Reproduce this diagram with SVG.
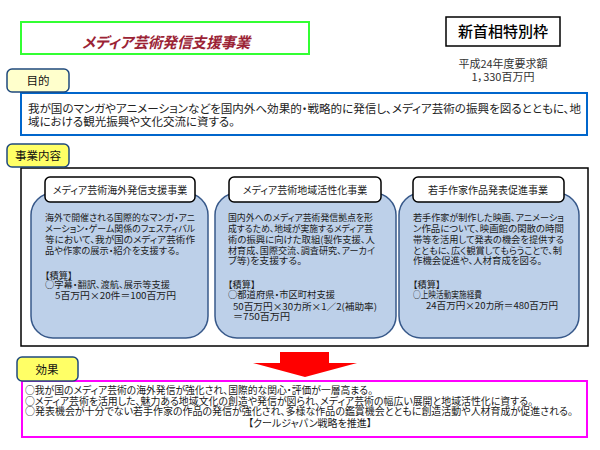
<svg xmlns="http://www.w3.org/2000/svg" width="600" height="450" viewBox="0 0 600 450">
<style>
text{font-family:"Noto Sans CJK JP","Noto Sans",sans-serif;font-feature-settings:"palt";fill:#222}
.lbl{font-size:11.5px;text-anchor:middle;fill:#111}
.body{font-size:9.2px;fill:#1a1a1a}
.hdr{font-size:10px;text-anchor:middle;fill:#222}
.eff{font-size:10px;fill:#1a1a1a}
.sub{fill:#BDD0E9;stroke:#38598A;stroke-width:1.5}
.head{fill:#fff;stroke:#000;stroke-width:1.5}
.tag{stroke:#1F497D;stroke-width:1.5}
</style>
<rect width="600" height="450" fill="#fff"/>

<g id="title">
<rect x="21" y="22" width="288" height="32" fill="#fff" stroke="#33FF33" stroke-width="2"/>
<text x="82" y="48" font-size="15" font-style="italic" font-weight="bold" textLength="168" lengthAdjust="spacingAndGlyphs" style="fill:#9B2335">メディア芸術発信支援事業</text>
</g>

<g id="special-frame">
<rect x="446" y="17" width="114" height="29" fill="#fff" stroke="#000" stroke-width="1.5"/>
<text x="503" y="37" font-size="15" font-weight="500" text-anchor="middle" style="fill:#000">新首相特別枠</text>
<text x="503" y="68" font-size="11" text-anchor="middle" style="fill:#333">平成24年度要求額</text>
<text x="503" y="81" font-size="11" text-anchor="middle" style="fill:#333">1，330百万円</text>
</g>

<g id="purpose">
<rect x="21" y="93" width="566" height="42" fill="#fff" stroke="#0066CC" stroke-width="2"/>
<rect class="tag" x="7" y="69" width="62" height="23" rx="5" fill="#FFFFCC"/>
<text class="lbl" x="38" y="85">目的</text>
<text x="28" y="113" font-size="11.5" textLength="553" lengthAdjust="spacingAndGlyphs">我が国のマンガやアニメーションなどを国内外へ効果的・戦略的に発信し、メディア芸術の振興を図るとともに、地</text>
<text x="28" y="126" font-size="11.5">域における観光振興や文化交流に資する。</text>
</g>

<g id="content">
<rect x="21" y="168" width="567" height="178" fill="#fff" stroke="#000" stroke-width="1.5"/>
<rect class="tag" x="7" y="144" width="62" height="23" rx="5" fill="#FFFF66"/>
<text class="lbl" x="38" y="160">事業内容</text>
</g>

<g id="project1">
<rect class="sub" x="31" y="193" width="177" height="145" rx="22"/>
<rect class="head" x="45" y="177" width="150" height="25" rx="5"/>
<text class="hdr" x="120" y="194">メディア芸術海外発信支援事業</text>
<text class="body" x="45" y="221" textLength="150" lengthAdjust="spacingAndGlyphs">海外で開催される国際的なマンガ・アニ</text>
<text class="body" x="45" y="232" textLength="150" lengthAdjust="spacingAndGlyphs">メーション・ゲーム関係のフェスティバル</text>
<text class="body" x="45" y="243" textLength="150" lengthAdjust="spacingAndGlyphs">等において、我が国のメディア芸術作</text>
<text class="body" x="45" y="254" textLength="135" lengthAdjust="spacingAndGlyphs">品や作家の展示・紹介を支援する。</text>
<text class="body" x="45" y="279">【積算】</text>
<text class="body" x="45" y="288" textLength="125" lengthAdjust="spacingAndGlyphs">○字幕・翻訳、渡航、展示等支援</text>
<text class="body" x="55" y="299" textLength="121" lengthAdjust="spacingAndGlyphs">5百万円×20件＝100百万円</text>
</g>

<g id="project2">
<rect class="sub" x="215" y="193" width="181" height="145" rx="22"/>
<rect class="head" x="229" y="177" width="152" height="25" rx="5"/>
<text class="hdr" x="305" y="194">メディア芸術地域活性化事業</text>
<text class="body" x="228" y="221" textLength="145" lengthAdjust="spacingAndGlyphs">国内外へのメディア芸術発信拠点を形</text>
<text class="body" x="228" y="232" textLength="145" lengthAdjust="spacingAndGlyphs">成するため、地域が実施するメディア芸</text>
<text class="body" x="228" y="243" textLength="147" lengthAdjust="spacingAndGlyphs">術の振興に向けた取組(製作支援、人</text>
<text class="body" x="228" y="254" textLength="147" lengthAdjust="spacingAndGlyphs">材育成、国際交流、調査研究、アーカイ</text>
<text class="body" x="228" y="264" textLength="74" lengthAdjust="spacingAndGlyphs">ブ等)を支援する。</text>
<text class="body" x="228" y="288">【積算】</text>
<text class="body" x="228" y="298" textLength="107" lengthAdjust="spacingAndGlyphs">○都道府県・市区町村支援</text>
<text class="body" x="233" y="310" textLength="144" lengthAdjust="spacingAndGlyphs">50百万円×30カ所×1／2(補助率)</text>
<text class="body" x="233" y="320" textLength="57" lengthAdjust="spacingAndGlyphs">＝750百万円</text>
</g>

<g id="project3">
<rect class="sub" x="399" y="193" width="180" height="145" rx="22"/>
<rect class="head" x="413" y="177" width="151" height="25" rx="5"/>
<text class="hdr" x="488" y="194">若手作家作品発表促進事業</text>
<text class="body" x="413" y="221" textLength="151" lengthAdjust="spacingAndGlyphs">若手作家が制作した映画、アニメーショ</text>
<text class="body" x="413" y="232" textLength="151" lengthAdjust="spacingAndGlyphs">ン作品について、映画館の閑散の時間</text>
<text class="body" x="413" y="243" textLength="151" lengthAdjust="spacingAndGlyphs">帯等を活用して発表の機会を提供する</text>
<text class="body" x="413" y="254" textLength="149" lengthAdjust="spacingAndGlyphs">とともに、広く観賞してもらうことで、制</text>
<text class="body" x="413" y="264" textLength="129" lengthAdjust="spacingAndGlyphs">作機会促進や、人材育成を図る。</text>
<text class="body" x="413" y="288">【積算】</text>
<text class="body" x="413" y="298" textLength="69" lengthAdjust="spacingAndGlyphs">○上映活動実施経費</text>
<text class="body" x="426" y="309" textLength="132" lengthAdjust="spacingAndGlyphs">24百万円×20カ所＝480百万円</text>
</g>

<g id="connectors">
<polygon points="280,352 329,352 329,363 357,363 305,377 253,363 280,363" fill="#FF0000"/>
</g>

<g id="effects">
<rect x="22" y="381" width="565" height="56" fill="#fff" stroke="#FF00FF" stroke-width="2"/>
<rect class="tag" x="17" y="357" width="61" height="24" rx="5" fill="#FFFF66"/>
<text class="lbl" x="47" y="374" font-size="12">効果</text>
<text class="eff" x="25" y="394" textLength="348" lengthAdjust="spacingAndGlyphs">○我が国のメディア芸術の海外発信が強化され、国際的な関心・評価が一層高まる。</text>
<text class="eff" x="25" y="404.5" textLength="508" lengthAdjust="spacingAndGlyphs">○メディア芸術を活用した、魅力ある地域文化の創造や発信が図られ、メディア芸術の幅広い展開と地域活性化に資する。</text>
<text class="eff" x="25" y="415" textLength="548" lengthAdjust="spacingAndGlyphs">○発表機会が十分でない若手作家の作品の発信が強化され、多様な作品の鑑賞機会とともに創造活動や人材育成が促進される。</text>
<text class="eff" x="310" y="427" text-anchor="middle">【クールジャパン戦略を推進】</text>
</g>
</svg>
